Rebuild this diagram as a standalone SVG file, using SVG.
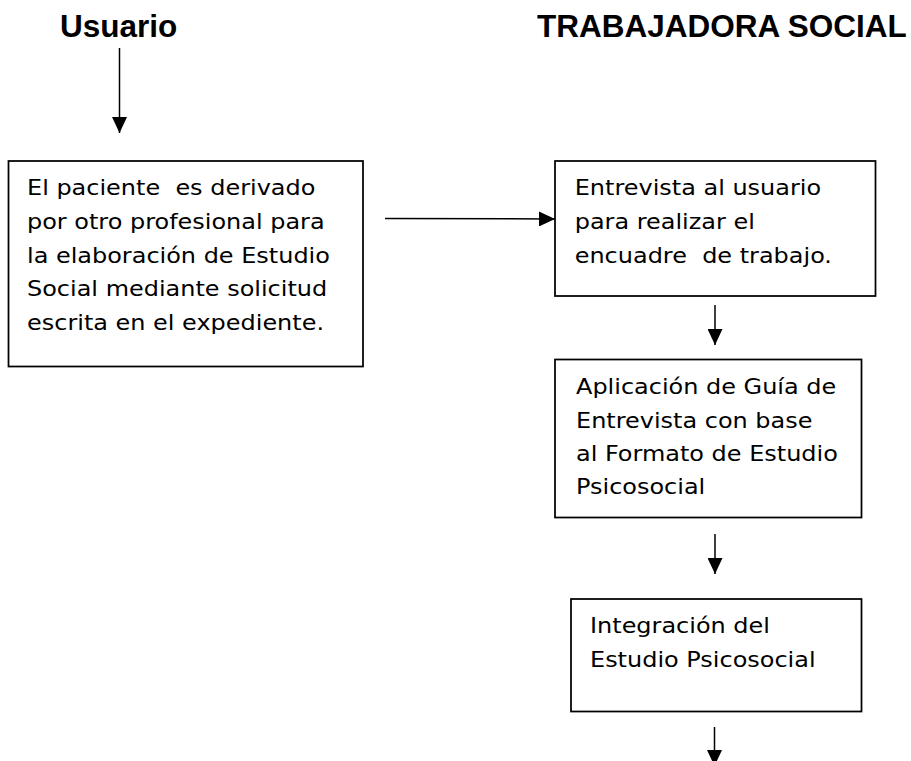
<svg xmlns="http://www.w3.org/2000/svg" width="911" height="761" viewBox="0 0 911 761">
<style>
.title{font-family:"Liberation Sans",Arial,sans-serif;font-weight:bold;font-size:31.5px;fill:#000}
.body{font-family:"DejaVu Sans",Verdana,sans-serif;font-size:21.5px;fill:#000;white-space:pre}
.box{fill:#fff;stroke:#000;stroke-width:1.75}
.conn{stroke:#000;stroke-width:1.5;fill:none;marker-end:url(#ah)}
</style>
<defs>
<marker id="ah" viewBox="0 0 16 15" refX="16" refY="7.5" markerWidth="16" markerHeight="15" orient="auto" markerUnits="userSpaceOnUse">
<path d="M0,0 L16,7.5 L0,15 z" fill="#000"/>
</marker>
</defs>
<rect width="911" height="761" fill="#fff"/>
<g id="title-usuario"><text class="title" x="60" y="37">Usuario</text></g>
<g id="title-trabajadora"><text class="title" x="537" y="37">TRABAJADORA SOCIAL</text></g>

<g id="connectors">
<line class="conn" x1="119.5" y1="48" x2="119.5" y2="133"/>
<line class="conn" x1="385" y1="218.5" x2="555" y2="219"/>
<line class="conn" x1="715" y1="305" x2="715" y2="345"/>
<line class="conn" x1="715" y1="534" x2="715" y2="574"/>
<line class="conn" x1="714.5" y1="727" x2="714.5" y2="766"/>
</g>

<g id="node-derivado">
<rect class="box" x="8.5" y="161" width="354.5" height="205.5"/>
<text class="body" xml:space="preserve" transform="translate(27,0) scale(1.115,1)"><tspan x="0" y="195.5">El paciente  es derivado</tspan><tspan x="0" y="229">por otro profesional para</tspan><tspan x="0" y="262.7">la elaboración de Estudio</tspan><tspan x="0" y="296.4">Social mediante solicitud</tspan><tspan x="0" y="330">escrita en el expediente.</tspan></text>
</g>

<g id="node-entrevista">
<rect class="box" x="555" y="161" width="320.5" height="135"/>
<text class="body" xml:space="preserve" transform="translate(574.7,0) scale(1.115,1)"><tspan x="0" y="195.5">Entrevista al usuario</tspan><tspan x="0" y="229.3">para realizar el</tspan><tspan x="0" y="263.2">encuadre  de trabajo.</tspan></text>
</g>

<g id="node-aplicacion">
<rect class="box" x="555" y="359.5" width="306.5" height="158"/>
<text class="body" xml:space="preserve" transform="translate(576,0) scale(1.115,1)"><tspan x="0" y="394">Aplicación de Guía de</tspan><tspan x="0" y="427.7">Entrevista con base</tspan><tspan x="0" y="461">al Formato de Estudio</tspan><tspan x="0" y="494.3">Psicosocial</tspan></text>
</g>

<g id="node-integracion">
<rect class="box" x="571" y="599" width="290.5" height="112.5"/>
<text class="body" xml:space="preserve" transform="translate(590,0) scale(1.115,1)"><tspan x="0" y="633.3">Integración del</tspan><tspan x="0" y="667.3">Estudio Psicosocial</tspan></text>
</g>
</svg>
